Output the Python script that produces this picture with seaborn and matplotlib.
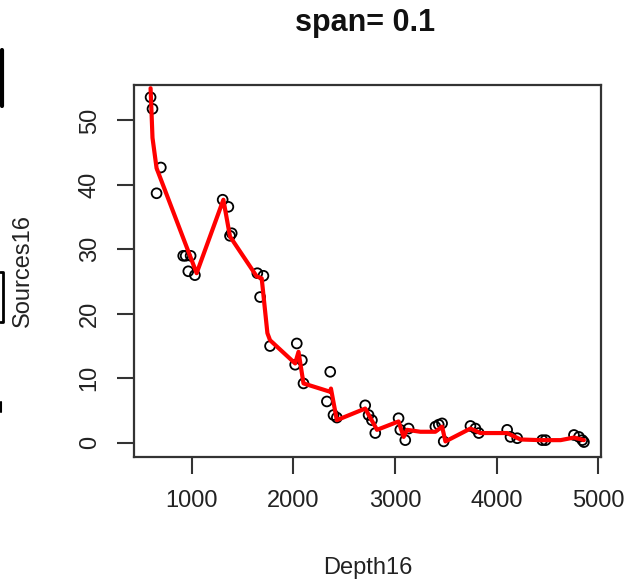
import matplotlib
matplotlib.use("Agg")
import matplotlib.pyplot as plt
import seaborn as sns
import pandas as pd
from matplotlib.lines import Line2D

# ---- data ----
depth = [596, 615, 655, 697, 917, 941, 967, 990, 1032, 1305, 1361, 1377, 1394,
         1646, 1673, 1706, 1771, 2018, 2034, 2084, 2100, 2330, 2363, 2395, 2428,
         2707, 2740, 2773, 2806, 3035, 3052, 3101, 3134, 3397, 3430, 3463, 3479,
         3742, 3791, 3824, 4103, 4136, 4202, 4448, 4481, 4760, 4809, 4842, 4858]
sources = [53.6, 51.8, 38.7, 42.7, 29.0, 29.0, 26.6, 29.0, 26.0, 37.7, 36.6, 32.1, 32.5,
           26.3, 22.6, 25.9, 15.0, 12.1, 15.4, 12.8, 9.2, 6.4, 11.0, 4.3, 3.9,
           5.8, 4.3, 3.5, 1.5, 3.8, 2.0, 0.4, 2.2, 2.5, 2.8, 3.0, 0.2,
           2.6, 2.2, 1.5, 2.0, 0.9, 0.7, 0.4, 0.4, 1.2, 0.9, 0.4, 0.1]

# loess (span = 0.1) fitted curve
fit_depth = [596, 615, 655, 1049, 1312, 1377, 1640, 1689, 1745, 1771, 2018, 2051,
             2100, 2363, 2370, 2428, 2707, 2823, 3035, 3085, 3118, 3249, 3397, 3463,
             3496, 3742, 3840, 4103, 4235, 4432, 4629, 4760, 4858]
fit_sources = [55.0, 47.3, 42.6, 26.3, 37.7, 32.0, 25.8, 25.5, 17.0, 15.9, 12.3, 14.1,
               9.2, 7.9, 8.4, 3.5, 5.3, 2.0, 3.3, 0.9, 2.0, 1.7, 1.7, 2.5,
               0.2, 2.2, 1.5, 1.5, 0.5, 0.4, 0.4, 0.8, 0.4]

title = "span= 0.1"
xlabel = "Depth16"
ylabel = "Sources16"
xticks = [1000, 2000, 3000, 4000, 5000]
yticks = [0, 10, 20, 30, 40, 50]

pts = pd.DataFrame({"Depth16": depth, "Sources16": sources})
fit = pd.DataFrame({"Depth16": fit_depth, "Sources16": fit_sources})

sns.set_style("white")
plt.rcParams["font.family"] = ["Liberation Sans", "DejaVu Sans"]

fig = plt.figure(figsize=(6.29, 5.87), dpi=100)
ax = fig.add_axes([134 / 629, 1 - 456.7 / 587, (601 - 134) / 629, (456.7 - 85) / 587])

sns.scatterplot(data=pts, x="Depth16", y="Sources16", ax=ax, marker="o", s=50,
                facecolor="none", edgecolor="black", linewidth=1.3, zorder=2)
sns.lineplot(data=fit, x="Depth16", y="Sources16", ax=ax, sort=False, estimator=None,
             color="#ff0000", linewidth=3, zorder=3)

ax.set_xlim(433, 5026)
ax.set_ylim(-2.17, 55.5)
ax.set_xticks(xticks)
ax.set_yticks(yticks)
ax.set_xticklabels([str(v) for v in xticks])
ax.set_yticklabels([str(v) for v in yticks], rotation=90, va="center")

for sp in ax.spines.values():
    sp.set_visible(True)
    sp.set_color("#333333")
    sp.set_linewidth(1.6)

ax.tick_params(axis="both", which="major", direction="out", length=12, width=1.5,
               color="#333333", labelsize=17, labelcolor="#222222",
               bottom=True, left=True)
ax.tick_params(axis="x", pad=12)
ax.tick_params(axis="y", pad=12)

ax.set_xlabel(xlabel, fontsize=17, color="#222222")
ax.set_ylabel(ylabel, fontsize=17, color="#222222")
ax.xaxis.set_label_coords(0.5, -(568 - 456.7) / (456.7 - 85))
ax.yaxis.set_label_coords(-(134 - 23) / (601 - 134), 0.5)
ax.xaxis.label.set_va("center")
ax.yaxis.label.set_va("center")

fig.text(365 / 629, 1 - 23 / 587, title, ha="center", va="center",
         fontsize=22, fontweight="bold", color="#111111")

# fragments of a neighbouring panel cut off at the left edge
fig.add_artist(Line2D([2 / 629, 2 / 629], [1 - 50 / 587, 1 - 106 / 587],
                      transform=fig.transFigure, color="black", linewidth=3))
fig.add_artist(Line2D([0, 3 / 629, 3 / 629, 0], [1 - 272 / 587, 1 - 272 / 587,
                                                 1 - 322 / 587, 1 - 322 / 587],
                      transform=fig.transFigure, color="black", linewidth=2))
fig.add_artist(Line2D([1 / 629, 1 / 629], [1 - 402 / 587, 1 - 412 / 587],
                      transform=fig.transFigure, color="black", linewidth=1.5))

fig.savefig("out.png", dpi=100)
